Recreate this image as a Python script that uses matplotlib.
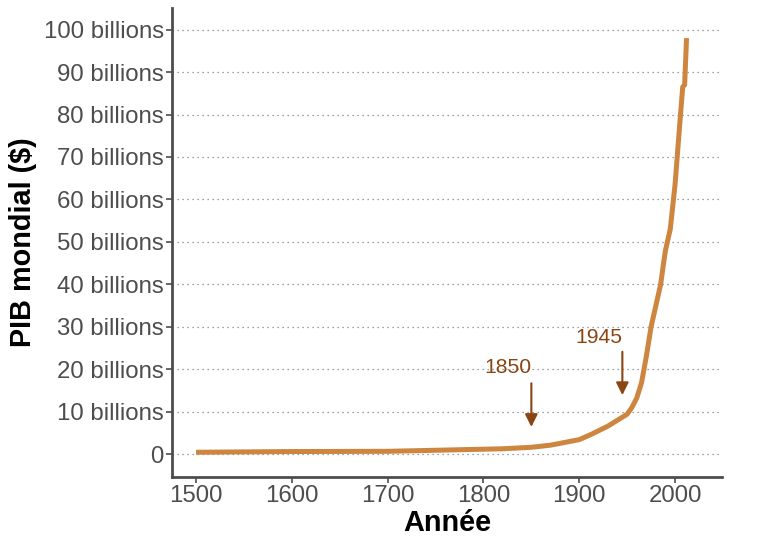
import matplotlib
matplotlib.use("Agg")
import matplotlib.pyplot as plt

years = [1500, 1600, 1700, 1820, 1850, 1870, 1900, 1913, 1930, 1940, 1950, 1955,
         1960, 1965, 1970, 1975, 1980, 1985, 1988, 1990, 1995, 2000, 2005, 2008,
         2010, 2012]
gdp = [0.43, 0.6, 0.65, 1.25, 1.6, 2.1, 3.4, 4.7, 6.6, 8.0, 9.4, 11.0,
       13.2, 16.8, 23.0, 30.0, 35.0, 40.0, 45.0, 48.0, 53.0, 63.5, 78.0, 86.5,
       87.0, 98.0]

x_ticks = [1500, 1600, 1700, 1800, 1900, 2000]
y_ticks = [0, 10, 20, 30, 40, 50, 60, 70, 80, 90, 100]
y_labels = ["0"] + [f"{v} billions" for v in y_ticks[1:]]

events = [1850, 1945]
arrow_start = [16.7, 24.1]
arrow_end = [6.4, 13.9]
label_y = [20.3, 27.4]

plt.rcParams['font.family'] = ['Liberation Sans', 'DejaVu Sans']

fig = plt.figure(figsize=(7.68, 5.49), dpi=100)
ax = fig.add_axes([172/768, 1 - 477/549, (722-172)/768, (477-8)/549])

for v in y_ticks:
    ax.axhline(v, color='#808080', lw=0.9, ls=(0, (1, 3)), zorder=1)

ax.plot(years, gdp, color='#CD853F', lw=3.6, solid_capstyle='butt',
        solid_joinstyle='round', zorder=3)

for ev, a0, a1, ly in zip(events, arrow_start, arrow_end, label_y):
    ax.annotate('', xy=(ev, a1), xytext=(ev, a0),
                arrowprops=dict(arrowstyle='-|>,head_length=0.5,head_width=0.25',
                                color='#8B4513', lw=1.5, shrinkA=0, shrinkB=0,
                                mutation_scale=15), zorder=4)
    ax.text(ev + 0.5, ly, str(ev), color='#8B4513', fontsize=15.2,
            ha='right', va='center', zorder=4)

ax.set_xlim(1474.9, 2049)
ax.set_ylim(-5.4, 105.1)
ax.set_xticks(x_ticks)
ax.set_yticks(y_ticks)
ax.set_yticklabels(y_labels)

for s in ['top', 'right']:
    ax.spines[s].set_visible(False)
for s in ['left', 'bottom']:
    ax.spines[s].set_color('#4d4d4d')
    ax.spines[s].set_linewidth(2.0)

ax.tick_params(axis='both', colors='#4d4d4d', labelcolor='#4d4d4d',
               labelsize=17.3, length=4, width=1.2, pad=2)

ax.set_xlabel('Année', fontsize=20.8, fontweight='bold', color='black', labelpad=1)
ax.set_ylabel('PIB mondial ($)', fontsize=20.8, fontweight='bold', color='black', labelpad=5)

fig.savefig('out.png', dpi=100)
